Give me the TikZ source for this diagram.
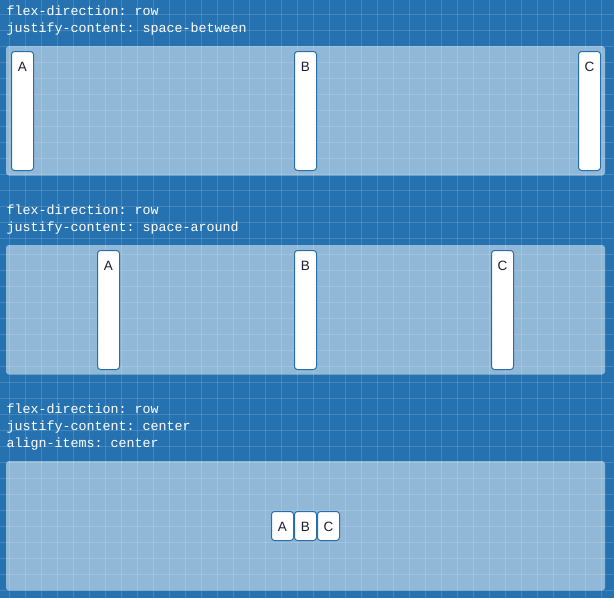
\documentclass[tikz,border=0pt]{standalone}
\usepackage{fontspec}
\setmonofont{Liberation Mono}
\newfontfamily\itemfont{Liberation Sans}
\definecolor{bgblue}{RGB}{38,114,176}
\definecolor{boxblue}{RGB}{40,110,172}
\definecolor{labelink}{RGB}{30,30,50}
\begin{document}
\begin{tikzpicture}[x=1pt,y=-1pt,
  panel/.style={fill=white,fill opacity=0.5,draw=none,rounded corners=3pt},
  itembox/.style={draw=boxblue,fill=white,line width=1pt,rounded corners=3pt,inner sep=0pt,minimum width=22pt},
  tallbox/.style={itembox,minimum height=119pt},
  shortbox/.style={itembox,minimum height=29pt},
  codeline/.style={anchor=base west,inner sep=0pt,text=white,font=\ttfamily\fontsize{13.33}{16}\selectfont},
  lbl/.style={anchor=base,inner sep=0pt,text=labelink,font=\itemfont\fontsize{13.5}{16}\selectfont},
  gridline/.style={draw=white,draw opacity=0.14,line width=1pt}]
\useasboundingbox (0,0) rectangle (614,598);
\fill[bgblue] (0,0) rectangle (614,598);
% grid
\foreach \gx in {0,...,37} {\draw[gridline] (9.5+16*\gx,0) -- (9.5+16*\gx,598);}
\foreach \gy in {0,...,36} {\draw[gridline] (0,14.5+16*\gy) -- (614,14.5+16*\gy);}
% panel 1
\node[codeline] (t1a) at (6.5,15.5) {flex-direction: row};
\node[codeline] (t1b) at (6.5,32.3) {justify-content: space-between};
\fill[panel] (6,46) rectangle (605,175.5);
\node[tallbox] (a1) at (22.5,111) {};
\node[tallbox] (b1) at (305.5,111) {};
\node[tallbox] (c1) at (589.5,111) {};
\node[lbl] (la1) at (22.5,71) {A};
\node[lbl] (lb1) at (305.5,71) {B};
\node[lbl] (lc1) at (589.5,71) {C};
% panel 2
\node[codeline] (t2a) at (6.5,214.3) {flex-direction: row};
\node[codeline] (t2b) at (6.5,231) {justify-content: space-around};
\fill[panel] (6,245) rectangle (605,374.5);
\node[tallbox] (a2) at (108.5,310) {};
\node[tallbox] (b2) at (305.5,310) {};
\node[tallbox] (c2) at (502.5,310) {};
\node[lbl] (la2) at (108.5,270) {A};
\node[lbl] (lb2) at (305.5,270) {B};
\node[lbl] (lc2) at (502.5,270) {C};
% panel 3
\node[codeline] (t3a) at (6.5,413.7) {flex-direction: row};
\node[codeline] (t3b) at (6.5,430.3) {justify-content: center};
\node[codeline] (t3c) at (6.5,447) {align-items: center};
\fill[panel] (6,461) rectangle (605,590.5);
\node[shortbox] (a3) at (282.5,526) {};
\node[shortbox] (b3) at (305.5,526) {};
\node[shortbox] (c3) at (328.5,526) {};
\node[lbl] (la3) at (282.5,531) {A};
\node[lbl] (lb3) at (305.5,531) {B};
\node[lbl] (lc3) at (328.5,531) {C};
\end{tikzpicture}
\end{document}
